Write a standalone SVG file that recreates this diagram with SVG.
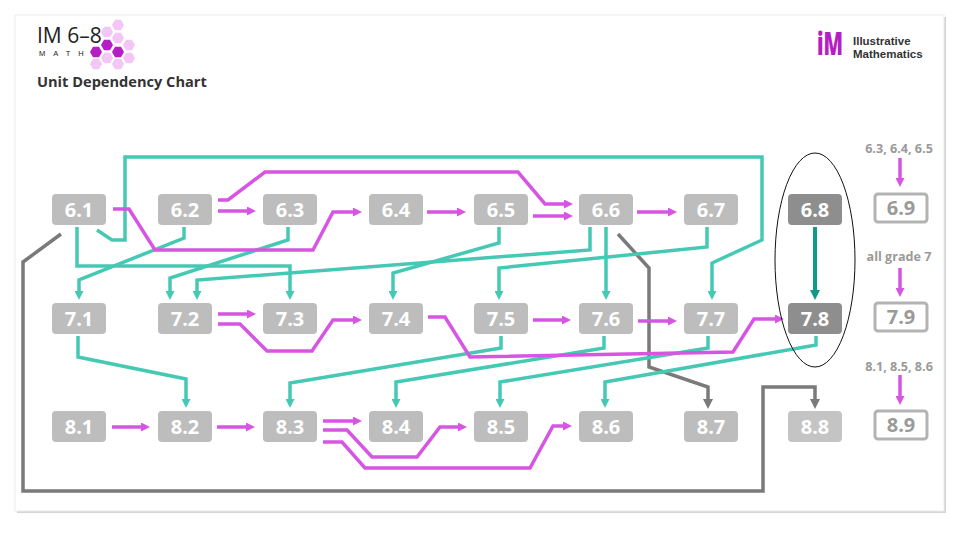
<svg xmlns="http://www.w3.org/2000/svg" width="960" height="540" viewBox="0 0 960 540">
<defs>
<style>
.n rect{fill:#bdbdbd;}
.n.d rect{fill:#8e8e8e;}
.n.o rect{fill:#fff;stroke:#b3b3b3;stroke-width:3;}
.n text{font-family:"Open Sans","DejaVu Sans",sans-serif;font-weight:700;font-size:20px;fill:#fff;text-anchor:middle;}
.n.o text{fill:#9a9a9a;}
.lbl{font-family:"Open Sans","DejaVu Sans",sans-serif;font-weight:700;font-size:12.6px;fill:#9a9a9a;text-anchor:middle;}
.c{fill:none;stroke-width:3.5;stroke-linejoin:miter;}
.m{stroke:#d655e3;marker-end:url(#am);}
.t{stroke:#45c9b5;marker-end:url(#at);}
.g{stroke:#7a7a7a;marker-end:url(#ag);}
.dt{stroke:#109a8a;stroke-width:4;marker-end:url(#adt);}
.hl{fill:#f3c6f5;}
.hd{fill:#b41fc4;}
</style>
<marker id="am" markerUnits="userSpaceOnUse" markerWidth="9" markerHeight="9" refX="2" refY="4.5" orient="auto"><path d="M0,0 L9,4.5 L0,9 z" fill="#d655e3"/></marker>
<marker id="at" markerUnits="userSpaceOnUse" markerWidth="9" markerHeight="9" refX="2" refY="4.5" orient="auto"><path d="M0,0 L9,4.5 L0,9 z" fill="#45c9b5"/></marker>
<marker id="ag" markerUnits="userSpaceOnUse" markerWidth="10" markerHeight="10" refX="2" refY="5" orient="auto"><path d="M0,0 L10,5 L0,10 z" fill="#7a7a7a"/></marker>
<marker id="adt" markerUnits="userSpaceOnUse" markerWidth="10" markerHeight="10" refX="2" refY="5" orient="auto"><path d="M0,0 L10,5 L0,10 z" fill="#109a8a"/></marker>
<path id="hex" d="M-6,0 L-3,-5.2 L3,-5.2 L6,0 L3,5.2 L-3,5.2 z"/>
</defs>
<rect width="960" height="540" fill="#fff"/>
<rect x="17" y="17" width="929" height="496" fill="#d4d4d4"/>
<rect x="15" y="15" width="929" height="496" fill="#fff" stroke="#ececec" stroke-width="1"/>

<g id="header">
<text x="37" y="43" font-family="'Open Sans','DejaVu Sans',sans-serif" font-size="21" fill="#222">IM 6–8</text>
<text x="39" y="56" font-family="'Liberation Sans',Arial,sans-serif" font-size="7.5" letter-spacing="8" fill="#222">MATH</text>
<use href="#hex" x="118" y="25" class="hl"/>
<use href="#hex" x="107" y="32" class="hl"/>
<use href="#hex" x="118" y="38" class="hl"/>
<use href="#hex" x="129" y="45" class="hl"/>
<use href="#hex" x="129" y="58" class="hl"/>
<use href="#hex" x="107" y="58" class="hl"/>
<use href="#hex" x="96" y="64" class="hl"/>
<use href="#hex" x="118" y="64" class="hl"/>
<use href="#hex" x="96" y="52" class="hd"/>
<use href="#hex" x="107" y="45" class="hd"/>
<use href="#hex" x="118" y="52" class="hd"/>
<text x="37" y="87" font-family="'Open Sans','DejaVu Sans',sans-serif" font-size="14.6" font-weight="700" fill="#333">Unit Dependency Chart</text>
</g>

<g id="logo">
<text x="817" y="55" font-family="'Open Sans','DejaVu Sans',sans-serif" font-size="32" font-weight="800" fill="#b41fc4" textLength="26" lengthAdjust="spacingAndGlyphs">iM</text>
<text x="853" y="45" font-family="'Liberation Sans',Arial,sans-serif" font-size="11.5" font-weight="700" fill="#333">Illustrative</text>
<text x="853" y="57.5" font-family="'Liberation Sans',Arial,sans-serif" font-size="11.5" font-weight="700" fill="#333">Mathematics</text>
</g>

<g id="connectors">
<!-- grey -->
<path class="c g" d="M61,234 L23,262 V491 H763 V387 H815 V401"/>
<path class="c g" d="M618,234 L649,268 V367 L708,387 V401"/>
<!-- teal 6 to 7 -->
<path class="c t" d="M97,230 L112,240 H125 V157 H762 V240 L712,263 V293"/>
<path class="c t" d="M77,227 V266 H290 V293"/>
<path class="c t" d="M184,227 V238 L79,280 V293"/>
<path class="c t" d="M288,227 V240 L170,278 V293"/>
<path class="c t" d="M590,227 V250 L197,280 V293"/>
<path class="c t" d="M499,227 V243 L393,273 V293"/>
<path class="c t" d="M707,227 V247 L499,268 V293"/>
<path class="c t" d="M606,227 V293"/>
<!-- teal 7 to 8 -->
<path class="c t" d="M78,336 V357 L186,379 V401"/>
<path class="c t" d="M501,336 V348 L290,383 V401"/>
<path class="c t" d="M604,336 V348 L396,382 V401"/>
<path class="c t" d="M708,336 V348 L500,382 V401"/>
<path class="c t" d="M816,336 V345 L605,382 V401"/>
<path class="c dt" d="M815,227 V292"/>
<!-- magenta -->
<path class="c m" d="M218,211 H249"/>
<path class="c m" d="M113,209 H129 L155,250 H313 L333,212 H355"/>
<path class="c m" d="M218,200 H228 L265,172 H518 L545,204 H566"/>
<path class="c m" d="M427,212 H459"/>
<path class="c m" d="M533,216 H566"/>
<path class="c m" d="M637,212 H670"/>
<path class="c m" d="M218,314 H249"/>
<path class="c m" d="M218,324 H240 L267,351 H312 L333,320 H355"/>
<path class="c m" d="M428,317 H445 L470,357 L733,352 L754,319 H777"/>
<path class="c m" d="M533,320 H564"/>
<path class="c m" d="M638,321 H670"/>
<path class="c m" d="M112,427 H143"/>
<path class="c m" d="M217,427 H248"/>
<path class="c m" d="M323,421 H355"/>
<path class="c m" d="M323,430 H347 L372,457 H417 L440,427 H460"/>
<path class="c m" d="M323,442 H342 L365,468 H530 L553,426 H565"/>
<path class="c m" d="M900,158 V180"/>
<path class="c m" d="M900,268 V290"/>
<path class="c m" d="M900,375 V398"/>
</g>

<g id="n61" class="n"><rect x="52" y="194" width="54" height="31" rx="4"/><text x="79" y="217">6.1</text></g>
<g id="n62" class="n"><rect x="158" y="194" width="54" height="31" rx="4"/><text x="185" y="217">6.2</text></g>
<g id="n63" class="n"><rect x="263" y="194" width="54" height="31" rx="4"/><text x="290" y="217">6.3</text></g>
<g id="n64" class="n"><rect x="369" y="194" width="54" height="31" rx="4"/><text x="396" y="217">6.4</text></g>
<g id="n65" class="n"><rect x="474" y="194" width="54" height="31" rx="4"/><text x="501" y="217">6.5</text></g>
<g id="n66" class="n"><rect x="579" y="194" width="54" height="31" rx="4"/><text x="606" y="217">6.6</text></g>
<g id="n67" class="n"><rect x="684" y="194" width="54" height="31" rx="4"/><text x="711" y="217">6.7</text></g>
<g id="n68" class="n d"><rect x="788" y="194" width="54" height="31" rx="4"/><text x="815" y="217">6.8</text></g>
<g id="n69" class="n o"><rect x="875" y="194" width="52" height="28" rx="3"/><text x="901" y="215">6.9</text></g>

<g id="n71" class="n"><rect x="52" y="303" width="54" height="31" rx="4"/><text x="79" y="326">7.1</text></g>
<g id="n72" class="n"><rect x="158" y="303" width="54" height="31" rx="4"/><text x="185" y="326">7.2</text></g>
<g id="n73" class="n"><rect x="263" y="303" width="54" height="31" rx="4"/><text x="290" y="326">7.3</text></g>
<g id="n74" class="n"><rect x="369" y="303" width="54" height="31" rx="4"/><text x="396" y="326">7.4</text></g>
<g id="n75" class="n"><rect x="474" y="303" width="54" height="31" rx="4"/><text x="501" y="326">7.5</text></g>
<g id="n76" class="n"><rect x="579" y="303" width="54" height="31" rx="4"/><text x="606" y="326">7.6</text></g>
<g id="n77" class="n"><rect x="684" y="303" width="54" height="31" rx="4"/><text x="711" y="326">7.7</text></g>
<g id="n78" class="n d"><rect x="788" y="303" width="54" height="31" rx="4"/><text x="815" y="326">7.8</text></g>
<g id="n79" class="n o"><rect x="875" y="303" width="52" height="28" rx="3"/><text x="901" y="324">7.9</text></g>

<g id="n81" class="n"><rect x="52" y="411" width="54" height="31" rx="4"/><text x="79" y="434">8.1</text></g>
<g id="n82" class="n"><rect x="158" y="411" width="54" height="31" rx="4"/><text x="185" y="434">8.2</text></g>
<g id="n83" class="n"><rect x="263" y="411" width="54" height="31" rx="4"/><text x="290" y="434">8.3</text></g>
<g id="n84" class="n"><rect x="369" y="411" width="54" height="31" rx="4"/><text x="396" y="434">8.4</text></g>
<g id="n85" class="n"><rect x="474" y="411" width="54" height="31" rx="4"/><text x="501" y="434">8.5</text></g>
<g id="n86" class="n"><rect x="579" y="411" width="54" height="31" rx="4"/><text x="606" y="434">8.6</text></g>
<g id="n87" class="n"><rect x="684" y="411" width="54" height="31" rx="4"/><text x="711" y="434">8.7</text></g>
<g id="n88" class="n"><rect x="788" y="411" width="54" height="31" rx="4" style="fill:#c4c4c4"/><text x="815" y="434">8.8</text></g>
<g id="n89" class="n o"><rect x="875" y="411" width="52" height="28" rx="3"/><text x="901" y="432">8.9</text></g>

<g id="labels">
<text class="lbl" x="899" y="153">6.3, 6.4, 6.5</text>
<text class="lbl" x="899" y="261">all grade 7</text>
<text class="lbl" x="899" y="371">8.1, 8.5, 8.6</text>
</g>

<ellipse id="highlight" cx="815" cy="260" rx="40" ry="107" fill="none" stroke="#111" stroke-width="1"/>
</svg>
